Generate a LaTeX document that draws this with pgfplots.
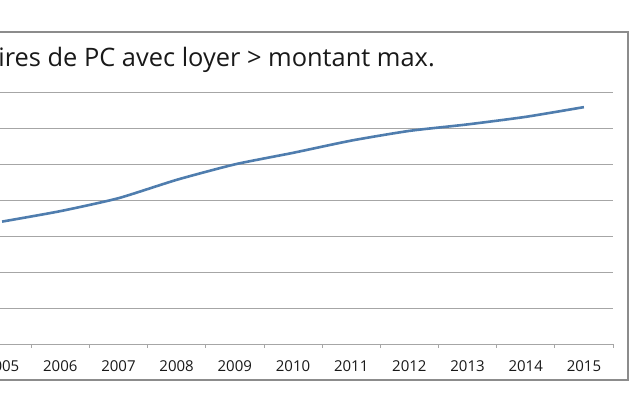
\documentclass[border=0pt]{standalone}
\usepackage{fontspec}
\setmainfont{Open Sans}
\usepackage{pgfplots}
\pgfplotsset{compat=1.18}
\definecolor{lineblue}{HTML}{4F7DAE}
\definecolor{gridgray}{HTML}{A6A6A6}
\definecolor{framegray}{HTML}{8C8C8C}
\begin{document}
\begin{tikzpicture}[x=1pt,y=1pt]
\useasboundingbox (0,0) rectangle (630,412);
\clip (0,0) rectangle (630,412);
\fill[white] (0,0) rectangle (630,412);
\draw[framegray, line width=1.2pt] (-20,32) rectangle (628,380);
\node[anchor=base east, font=\fontsize{25.4}{30}\selectfont, inner sep=0pt, text=black!90] at (435,345) {Nombre de bénéficiaires de PC avec loyer > montant max.};
\begin{axis}[
  at={(-27pt,68pt)}, anchor=south west,
  scale only axis, width=640pt, height=252pt,
  xmin=-0.5, xmax=10.5, ymin=0, ymax=7,
  ytick={0,1,...,7}, yticklabels={},
  major y tick style={draw=none},
  ymajorgrids, major grid style={gridgray, line width=0.9pt},
  axis line style={draw=none},
  xtick={0,...,10},
  xticklabels={2005,2006,2007,2008,2009,2010,2011,2012,2013,2014,2015},
  major x tick style={draw=none},
  minor xtick={-0.5,0.5,...,10.5},
  minor x tick style={draw=gridgray, line width=0.8pt},
  minor tick length=4pt,
  tick align=outside, xtick pos=left,
  xticklabel style={font=\fontsize{15}{18}\selectfont, text=black!90, anchor=base, inner sep=0pt, yshift=-23pt},
  xticklabel shift=0pt,
  /pgf/number format/assume math mode=true,
  clip=false,
]
\addplot[lineblue, line width=2.6pt, smooth, tension=0.35] coordinates {
 (0,3.40) (1,3.69) (2,4.05) (3,4.56) (4,4.99) (5,5.31) (6,5.65) (7,5.92) (8,6.10) (9,6.31) (10,6.58)
};
\end{axis}
\end{tikzpicture}
\end{document}
